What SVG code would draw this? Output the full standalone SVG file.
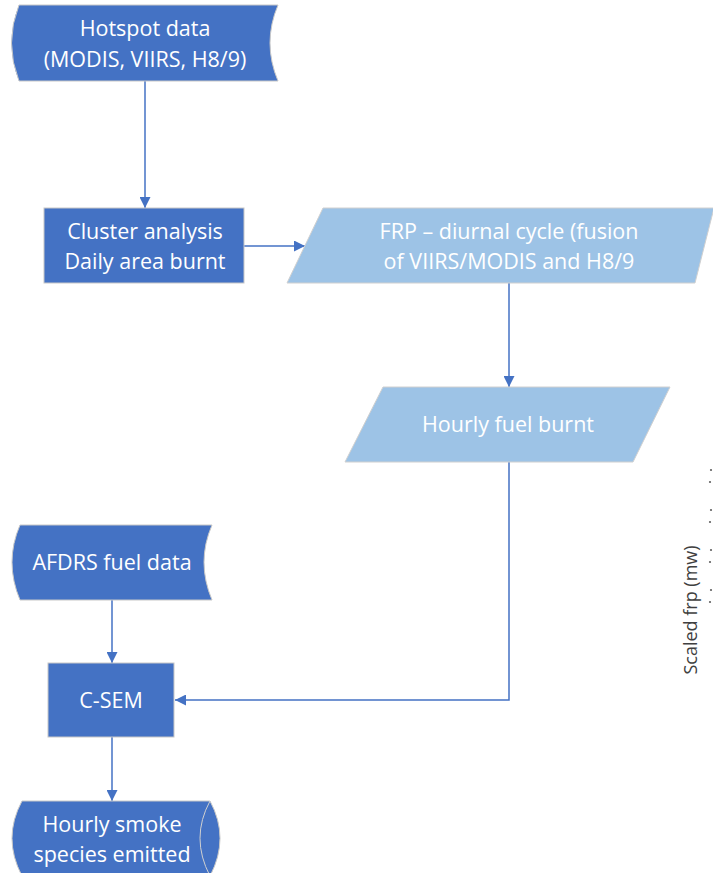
<svg xmlns="http://www.w3.org/2000/svg" width="713" height="873" viewBox="0 0 713 873">
  <defs>
    <marker id="arrow" viewBox="0 0 10 10" refX="10" refY="5" markerWidth="11" markerHeight="11" markerUnits="userSpaceOnUse" orient="auto">
      <path d="M0,0 L10,5 L0,10 z" fill="#4472C4"/>
    </marker>
    <style>
      .dark { fill: #4472C4; stroke: #C8C8C8; stroke-width: 1; }
      .light { fill: #9DC3E6; stroke: #D0D0D0; stroke-width: 1; }
      .lbl { font-family: "Open Sans", "Noto Sans", sans-serif; font-size: 21.5px; fill: #FFFFFF; text-anchor: middle; }
      .conn { fill: none; stroke: #4472C4; stroke-width: 1.5; marker-end: url(#arrow); }
      .axis { font-family: "Open Sans", "Noto Sans", sans-serif; font-size: 18px; fill: #404040; text-anchor: middle; }
    </style>
  </defs>

  <rect width="713" height="873" fill="#FFFFFF"/>

  <!-- connectors -->
  <g id="connectors">
    <path class="conn" d="M145,81 L145,208"/>
    <path class="conn" d="M244,246 L305,246"/>
    <path class="conn" d="M509,283 L509,387"/>
    <path class="conn" d="M509,462 L509,700 L175,700"/>
    <path class="conn" d="M112,600 L112,663"/>
    <path class="conn" d="M112,737 L112,801"/>
  </g>

  <!-- stored data: hotspot input -->
  <g id="hotspot">
    <path class="dark" d="M19,5 L278,5 Q262,43 278,81 L19,81 Q4,43 19,5 z"/>
    <text class="lbl" x="145" y="36">Hotspot data</text>
    <text class="lbl" x="145" y="67">(MODIS, VIIRS, H8/9)</text>
  </g>

  <!-- process: clustering -->
  <g id="cluster">
    <rect class="dark" x="44" y="208" width="200" height="75"/>
    <text class="lbl" x="145" y="239">Cluster analysis</text>
    <text class="lbl" x="145" y="269">Daily area burnt</text>
  </g>

  <!-- data: FRP diurnal cycle -->
  <g id="frp">
    <path class="light" d="M323,208 L714,208 L695,283 L287,283 z"/>
    <text class="lbl" x="509" y="239">FRP – diurnal cycle (fusion</text>
    <text class="lbl" x="509" y="269">of VIIRS/MODIS and H8/9</text>
  </g>

  <!-- data: hourly fuel -->
  <g id="fuel">
    <path class="light" d="M383,387 L670,387 L633,462 L345,462 z"/>
    <text class="lbl" x="508" y="432">Hourly fuel burnt</text>
  </g>

  <!-- stored data: AFDRS -->
  <g id="afdrs">
    <path class="dark" d="M20,525 L212,525 Q196,562 212,600 L20,600 Q4,562 20,525 z"/>
    <text class="lbl" x="112" y="570">AFDRS fuel data</text>
  </g>

  <!-- process: C-SEM -->
  <g id="csem">
    <rect class="dark" x="48" y="663" width="126" height="74"/>
    <text class="lbl" x="111" y="708">C-SEM</text>
  </g>

  <!-- direct access storage: emissions -->
  <g id="emitted">
    <path class="dark" d="M22,801 L210,801 Q230,838 210,876 L22,876 Q2,838 22,801 z"/>
    <path d="M210,801 Q190,838 210,876" fill="none" stroke="#D0D0D0" stroke-width="1"/>
    <text class="lbl" x="112" y="832">Hourly smoke</text>
    <text class="lbl" x="112" y="862">species emitted</text>
  </g>

  <!-- chart axis fragment at the right edge -->
  <g id="axis">
    <text class="axis" transform="translate(697,610) rotate(-90)">Scaled frp (mw)</text>
    <g fill="#606060">
      <circle cx="711" cy="470" r="1.1"/>
      <circle cx="710" cy="482" r="1.1"/>
      <circle cx="711" cy="510" r="1.1"/>
      <circle cx="710" cy="522" r="1.1"/>
      <circle cx="711" cy="550" r="1.1"/>
      <circle cx="710" cy="562" r="1.1"/>
      <circle cx="711" cy="590" r="1.1"/>
      <circle cx="710" cy="602" r="1.1"/>
    </g>
  </g>
</svg>
